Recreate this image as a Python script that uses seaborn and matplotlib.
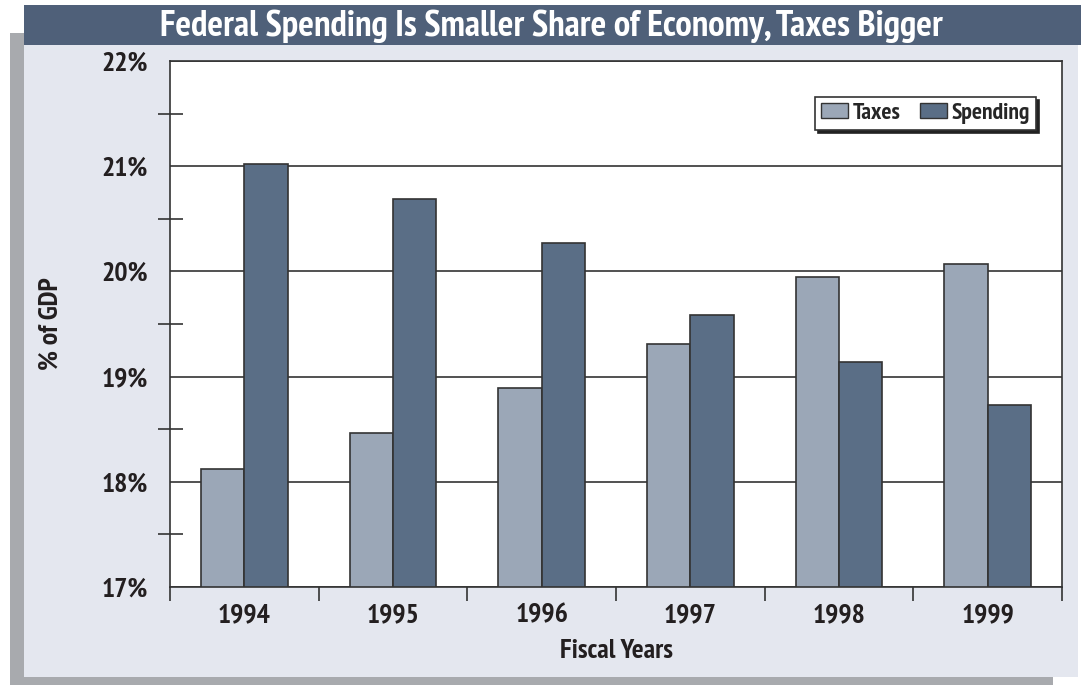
import pandas as pd
import seaborn as sns
import matplotlib.pyplot as plt
from matplotlib.patches import Rectangle
from matplotlib.ticker import MultipleLocator, FixedLocator, FuncFormatter

# data
years = ['1994', '1995', '1996', '1997', '1998', '1999']
taxes = [18.12, 18.46, 18.89, 19.31, 19.95, 20.07]
spending = [21.02, 20.69, 20.27, 19.59, 19.14, 18.73]

df = pd.DataFrame({
    'year': years * 2,
    'value': taxes + spending,
    'series': ['Taxes'] * len(years) + ['Spending'] * len(years),
})

sns.set_theme(style='white')
plt.rcParams['font.family'] = ['PT Sans Narrow', 'Roboto Condensed', 'Archivo Narrow',
                               'Liberation Sans Narrow', 'DejaVu Sans']
plt.rcParams['font.weight'] = 'bold'

W, H = 1081, 685
fig = plt.figure(figsize=(W / 100, H / 100), dpi=100)
fig.patch.set_facecolor('white')

def px_rect(x0, y0, x1, y1, color):
    r = Rectangle((x0 / W, 1 - y1 / H), (x1 - x0) / W, (y1 - y0) / H,
                  transform=fig.transFigure, facecolor=color, edgecolor='none', zorder=-10)
    fig.patches.append(r)

# panel with drop shadow and title bar
px_rect(10, 33, 1053, 685, '#a8aaae')
px_rect(24, 40, 1078, 677, '#e4e7ef')
px_rect(24, 5, 1081, 45, '#4f6079')
fig.text(551 / W, 1 - 26 / H, 'Federal Spending Is Smaller Share of Economy, Taxes Bigger',
         ha='center', va='center', color='white', fontsize=26.5, fontweight='bold')

ax = fig.add_axes([170 / W, 1 - 587 / H, (1062 - 170) / W, (587 - 61) / H])
ax.set_facecolor('white')

palette = {'Taxes': '#9ba7b7', 'Spending': '#5a6e86'}
sns.barplot(data=df, x='year', y='value', hue='series', palette=palette,
            width=0.585, edgecolor='#333333', linewidth=1.2, saturation=1,
            ax=ax, legend=False)

ax.set_ylim(17, 22)
ax.set_xlim(-0.5, 5.5)
ax.yaxis.set_major_locator(MultipleLocator(1))
ax.yaxis.set_minor_locator(MultipleLocator(0.5))
ax.yaxis.set_major_formatter(FuncFormatter(lambda v, p: f'{v:.0f}%'))
ax.grid(axis='y', which='major', color='#333333', linewidth=1.2)
ax.set_axisbelow(True)
ax.tick_params(axis='y', which='major', direction='out', length=15, width=1.2,
               color='#333333', labelsize=20, pad=1)
ax.tick_params(axis='y', which='minor', direction='inout', length=18, width=1.2,
               color='#333333', left=True)

ax.xaxis.set_minor_locator(FixedLocator([i - 0.5 for i in range(len(years) + 1)]))
ax.tick_params(axis='x', which='major', length=0, labelsize=20, pad=12)
ax.tick_params(axis='x', which='minor', direction='out', length=10, width=1.2,
               color='#333333', bottom=True)
for lab in ax.get_xticklabels() + ax.get_yticklabels():
    lab.set_fontweight('bold')
    lab.set_color('#231f20')

for s in ax.spines.values():
    s.set_color('#333333')
    s.set_linewidth(1.2)

ax.set_xlabel('Fiscal Years', fontsize=20, fontweight='bold', color='#231f20', labelpad=8)
ax.set_ylabel('% of GDP', fontsize=20, fontweight='bold', color='#231f20', labelpad=28)

handles = [Rectangle((0, 0), 1, 1, facecolor=palette[k], edgecolor='#333333', linewidth=1)
           for k in ['Taxes', 'Spending']]
leg = ax.legend(handles, ['Taxes', 'Spending'], loc='upper right',
                bbox_to_anchor=(0.971, 0.932), ncol=2, frameon=True, fancybox=False,
                shadow={'color': '#222222', 'alpha': 1}, fontsize=17,
                handlelength=1.15, handleheight=0.65, handletextpad=0.2,
                columnspacing=0.8, borderpad=0.25, borderaxespad=0)
leg.get_frame().set_edgecolor('#333333')
leg.get_frame().set_linewidth(1.2)
for t in leg.get_texts():
    t.set_fontweight('bold')

fig.savefig('out.png', dpi=100, facecolor=fig.get_facecolor())
